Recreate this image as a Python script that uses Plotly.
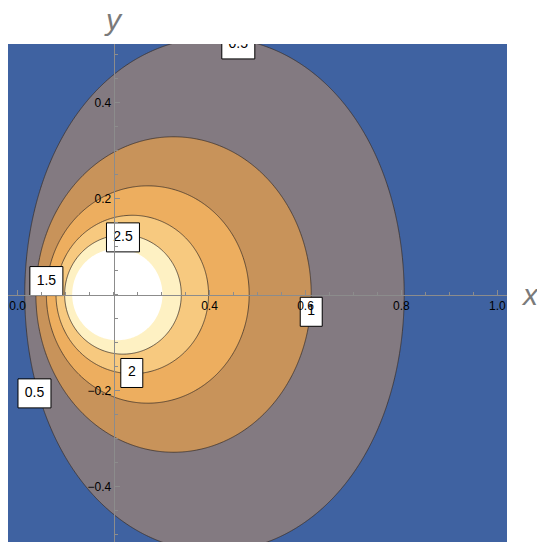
import numpy as np
import plotly.graph_objects as go

# ---- data -------------------------------------------------------------
# contour levels drawn as lines, with their printed labels
levels = [0.5, 1.0, 1.5, 2.0, 2.5]
level_labels = ["0.5", "1", "1.5", "2", "2.5"]
clip_level = 3.0          # values above this are left blank

# potential of a line charge between two grounded plates
charge_x = 0.189
plate_left = -0.009
plate_right = 1.06
strength = 1.06

# axis ticks
axes_origin = (0.2, 0.0)
x_tick_vals = [0.0, 0.2, 0.4, 0.6, 0.8, 1.0]
x_tick_text = ["0.0", "", "0.4", "0.6", "0.8", "1.0"]
y_tick_vals = [-0.4, -0.2, 0.0, 0.2, 0.4]
y_tick_text = ["\u22120.4", "\u22120.2", "", "0.2", "0.4"]

# ---- styling / layout -------------------------------------------------
band_colors = ["#3F62A1", "#837A81", "#C8935A", "#EDAE5F",
               "#F7C97F", "#FEF1C3", "#FFFFFF"]
line_color = "rgba(55,45,40,0.75)"
axis_color = "#8C8C8C"

x_range = [-0.02, 1.02]
y_range = [-0.5156, 0.5219]

# label anchors (x, y) for each level label
label_anchor = {
    "0.5": [(0.460, 0.521), (0.0352, -0.206)],
    "1": [(0.612, -0.036)],
    "1.5": [(0.060, 0.028)],
    "2": [(0.238, -0.1635)],
    "2.5": [(0.2196, 0.119)],
}
px = 1.0 / 480.0  # one screen pixel in data units

# ---- field ------------------------------------------------------------
xs = np.linspace(x_range[0], x_range[1], 521)
ys = np.linspace(-0.53, 0.53, 531)
X, Y = np.meshgrid(xs, ys)
L = plate_right - plate_left
u = (X - plate_left) / L
u0 = (charge_x - plate_left) / L
ch = np.cosh(np.pi * Y / L)
with np.errstate(divide="ignore", invalid="ignore"):
    Z = strength * np.log((ch - np.cos(np.pi * (u + u0))) /
                          (ch - np.cos(np.pi * (u - u0))))
Z = np.nan_to_num(Z, nan=10.0, posinf=10.0, neginf=-1.0)
Z = np.clip(Z, -1.0, 10.0)

step = levels[1] - levels[0]
n_bands = len(band_colors)
colorscale = [[i / (n_bands - 1), c] for i, c in enumerate(band_colors)]

fig = go.Figure()
fig.add_trace(go.Contour(
    x=xs, y=ys, z=Z, autocontour=False,
    contours=dict(start=levels[0], end=clip_level, size=step,
                  coloring="fill", showlines=False),
    colorscale=colorscale, showscale=False,
    line=dict(width=0), hoverinfo="skip"))
fig.add_trace(go.Contour(
    x=xs, y=ys, z=Z, autocontour=False,
    contours=dict(start=levels[0], end=levels[-1], size=step,
                  coloring="none"),
    line=dict(color=line_color, width=1),
    showscale=False, hoverinfo="skip"))

# framed contour labels
tx, ty, tt = [], [], []
for text in level_labels:
    for (cx, cy) in label_anchor.get(text, []):
        half_w = (16.5 if len(text) > 1 else 11.0) * px
        half_h = 14.5 * px
        fig.add_trace(go.Scatter(
            x=[cx - half_w, cx + half_w, cx + half_w, cx - half_w, cx - half_w],
            y=[cy - half_h, cy - half_h, cy + half_h, cy + half_h, cy - half_h],
            mode="lines", fill="toself", fillcolor="white",
            line=dict(color="black", width=1), hoverinfo="skip",
            showlegend=False))
        tx.append(cx)
        ty.append(cy)
        tt.append(text)
fig.add_trace(go.Scatter(
    x=tx, y=ty, text=tt, mode="text", textposition="middle center",
    textfont=dict(family="Liberation Sans, Arial, sans-serif", size=14,
                  color="black"),
    hoverinfo="skip", showlegend=False))

x_pos = (axes_origin[1] - y_range[0]) / (y_range[1] - y_range[0])
y_pos = (axes_origin[0] - x_range[0]) / (x_range[1] - x_range[0])
tick_font = dict(family="Liberation Sans, Arial, sans-serif", size=12,
                 color="black")
label_font = dict(family="Liberation Sans, Arial, sans-serif", size=30,
                  color="#7A7A7A")

fig.update_layout(
    width=537, height=542,
    margin=dict(l=8, r=30, t=44, b=0),
    paper_bgcolor="white", plot_bgcolor="white",
    showlegend=False,
    xaxis=dict(range=x_range, anchor="free", position=x_pos,
               showline=True, linecolor=axis_color, linewidth=1,
               showgrid=False, zeroline=False,
               tickmode="array", tickvals=x_tick_vals, ticktext=x_tick_text,
               ticks="inside", ticklen=5, tickcolor=axis_color,
               minor=dict(tickvals=[i * 0.05 for i in range(21)],
                          ticks="inside", ticklen=3, tickcolor=axis_color,
                          showgrid=False),
               tickfont=tick_font, layer="above traces"),
    yaxis=dict(range=y_range, anchor="free", position=y_pos, side="left",
               showline=True, linecolor=axis_color, linewidth=1,
               showgrid=False, zeroline=False,
               tickmode="array", tickvals=y_tick_vals, ticktext=y_tick_text,
               ticks="inside", ticklen=5, tickcolor=axis_color,
               minor=dict(tickvals=[-0.5 + i * 0.05 for i in range(21)],
                          ticks="inside", ticklen=3, tickcolor=axis_color,
                          showgrid=False),
               tickfont=tick_font, layer="above traces"),
    annotations=[
        dict(text="<i>y</i>", xref="x", yref="paper", x=axes_origin[0], y=1.0,
             xanchor="center", yanchor="bottom", yshift=6, showarrow=False,
             font=label_font),
        dict(text="<i>x</i>", xref="paper", yref="y", x=1.0, y=axes_origin[1],
             xanchor="left", yanchor="middle", xshift=12, showarrow=False,
             font=label_font),
    ],
)

fig.write_html("out.html")
